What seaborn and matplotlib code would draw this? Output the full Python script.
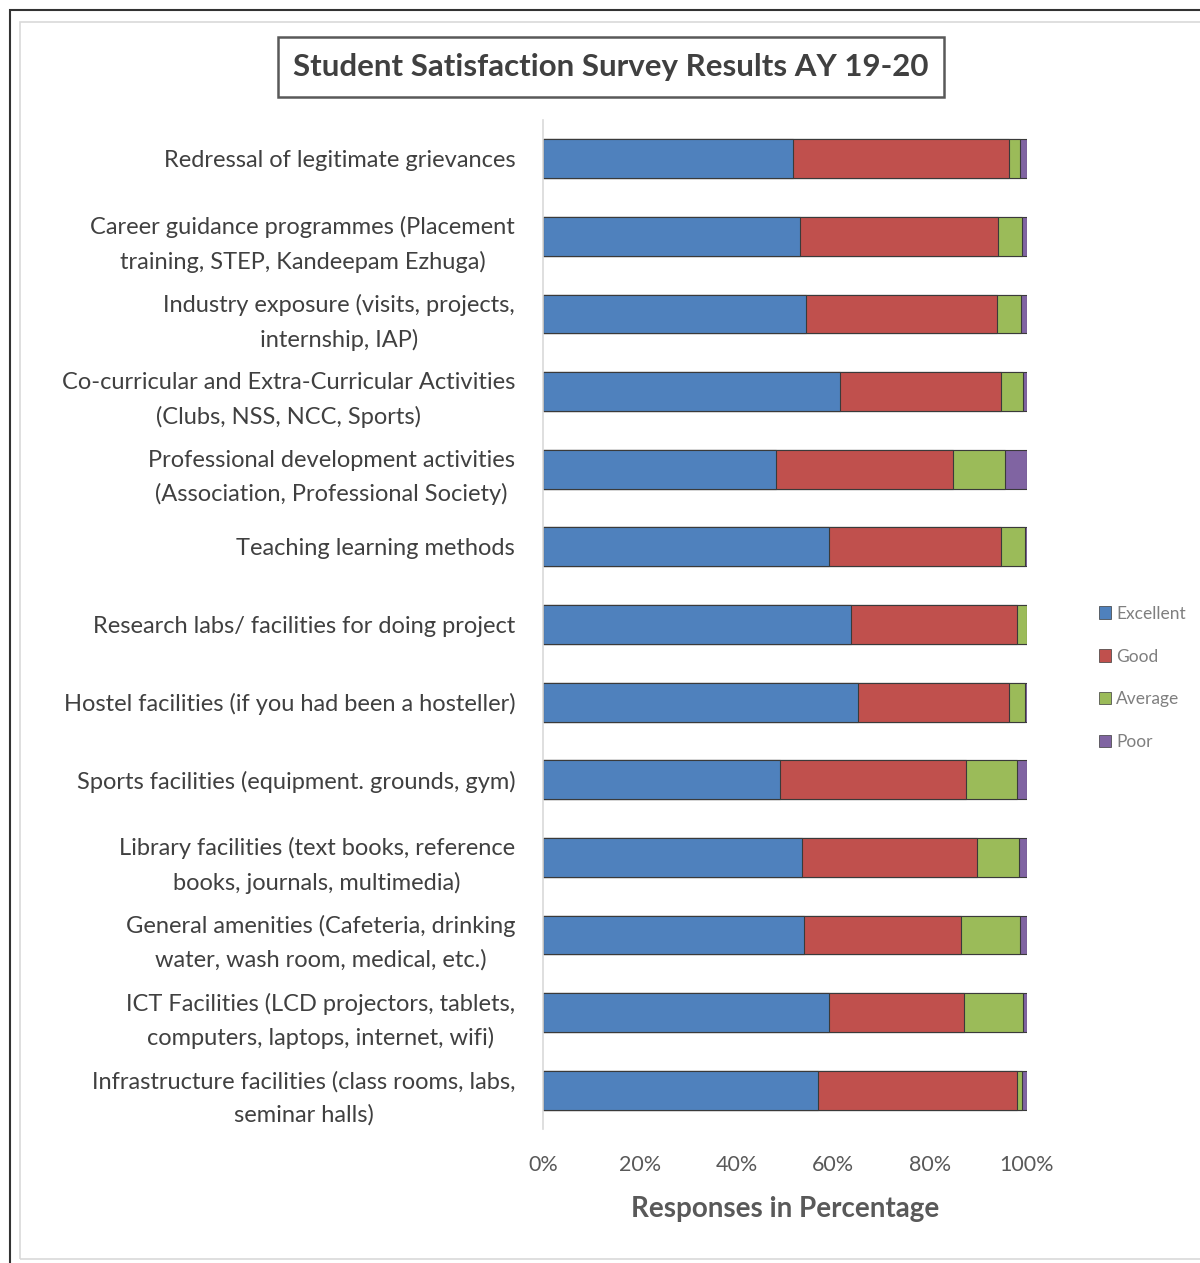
import matplotlib
matplotlib.use("Agg")
import matplotlib.pyplot as plt
from matplotlib.patches import Patch, Rectangle
import seaborn as sns
import pandas as pd
import numpy as np

categories = [
    "Redressal of legitimate grievances",
    "Career guidance programmes (Placement\ntraining, STEP, Kandeepam Ezhuga)",
    "Industry exposure (visits, projects,\ninternship, IAP)",
    "Co-curricular and Extra-Curricular Activities\n(Clubs, NSS, NCC, Sports)",
    "Professional development activities\n(Association, Professional Society)",
    "Teaching learning methods",
    "Research labs/ facilities for doing project",
    "Hostel facilities (if you had been a hosteller)",
    "Sports facilities (equipment. grounds, gym)",
    "Library facilities (text books, reference\nbooks, journals, multimedia)",
    "General amenities (Cafeteria, drinking\nwater, wash room, medical, etc.)",
    "ICT Facilities (LCD projectors, tablets,\ncomputers, laptops, internet, wifi)",
    "Infrastructure facilities (class rooms, labs,\nseminar halls)",
]
excellent = [51.7, 53.1, 54.3, 61.4, 48.2, 59.1, 63.6, 65.0, 49.0, 53.6, 53.9, 59.1, 56.9]
good      = [44.5, 40.9, 39.6, 33.2, 36.6, 35.5, 34.3, 31.3, 38.4, 36.1, 32.5, 27.9, 41.0]
average   = [2.3, 5.0, 4.8, 4.6, 10.6, 5.0, 2.1, 3.3, 10.6, 8.7, 12.2, 12.1, 1.1]
poor      = [1.5, 1.0, 1.3, 0.8, 4.6, 0.4, 0.0, 0.4, 2.0, 1.6, 1.4, 0.9, 1.0]
series_names = ["Excellent", "Good", "Average", "Poor"]
colors = ["#4F81BD", "#C0504D", "#9BBB59", "#8064A2"]
xticks = [0, 20, 40, 60, 80, 100]
xticklabels = ["0%", "20%", "40%", "60%", "80%", "100%"]

sns.set_style("white")
plt.rcParams["font.family"] = ["Lato", "DejaVu Sans"]

df = pd.DataFrame({"category": categories, "Excellent": excellent, "Good": good,
                   "Average": average, "Poor": poor})
tot = df[series_names].to_numpy()
cums = np.cumsum(tot, axis=1)
cums = cums / cums[:, -1:] * 100.0

fig = plt.figure(figsize=(12, 12.63), dpi=100)
# frames
fig.patches.append(Rectangle((10/1200, -0.01), 1.2, 1 - 10/1263 + 0.01, transform=fig.transFigure,
                             fill=False, edgecolor="#333333", linewidth=1.5))
fig.patches.append(Rectangle((20/1200, 0.003), 1.2, 1 - 22/1263 - 0.003, transform=fig.transFigure,
                             fill=False, edgecolor="#d9d9d9", linewidth=1.2))

ax = fig.add_axes([543/1200, 1 - 1129/1263, 484/1200, (1129 - 120)/1263])
for i in range(len(series_names) - 1, -1, -1):
    d = pd.DataFrame({"category": categories, "val": cums[:, i]})
    sns.barplot(data=d, x="val", y="category", color=colors[i], orient="h",
                width=0.5, ax=ax, edgecolor="#3a3a3a", linewidth=0.8, saturation=1)

ax.set_xlim(0, 100)
ax.set_ylim(len(categories) - 0.5, -0.5)
ax.set_xticks(xticks)
ax.set_xticklabels(xticklabels, fontsize=15.5, color="#595959")
ax.set_ylabel("")
ax.set_xlabel("Responses in Percentage", fontsize=20, fontweight="bold", color="#595959", labelpad=15)
ax.tick_params(axis="y", length=0, pad=20, labelsize=17, labelcolor="#404040")
ax.tick_params(axis="x", length=0, pad=19)
for lab in ax.get_yticklabels():
    lab.set_multialignment("center")
    lab.set_linespacing(1.7)
for s in ["top", "right", "bottom"]:
    ax.spines[s].set_visible(False)
ax.spines["left"].set_color("#d9d9d9")
ax.spines["left"].set_linewidth(1.2)

handles = [Patch(facecolor=c, edgecolor="#3a3a3a", linewidth=0.5, label=n) for c, n in zip(colors, series_names)]
fig.legend(handles=handles, loc="center left", bbox_to_anchor=(1083/1200, 1 - 678/1263),
           frameon=False, fontsize=12.5, labelcolor="#7f7f7f", handlelength=0.7, handleheight=0.7,
           handletextpad=0.3, labelspacing=1.55)

fig.text(611/1200, 1 - 67/1263, "Student Satisfaction Survey Results AY 19-20", ha="center", va="center",
         fontsize=22.5, fontweight="bold", color="#404040",
         bbox=dict(boxstyle="square,pad=0.5", facecolor="white", edgecolor="#595959", linewidth=1.8))

fig.savefig("out.png", dpi=100, facecolor="white")
